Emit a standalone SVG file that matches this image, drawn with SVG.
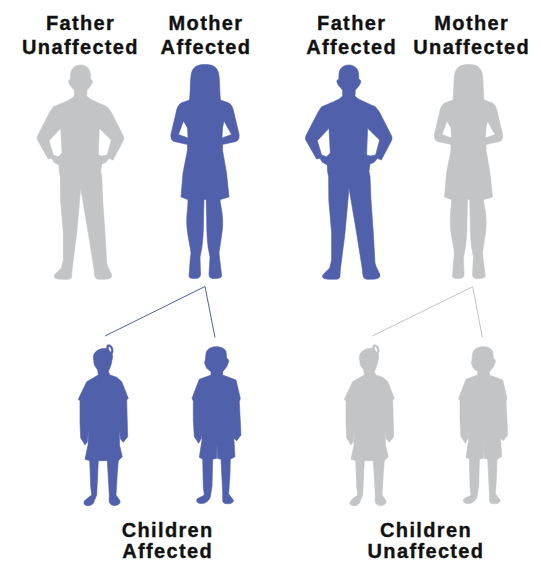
<svg xmlns="http://www.w3.org/2000/svg" width="541" height="562" viewBox="0 0 541 562">
<style>
text{font-family:"Liberation Sans",Arial,sans-serif;font-weight:700;font-size:20px;letter-spacing:1.35px;fill:#111;stroke:#111;stroke-width:.35;text-anchor:middle}
.a{fill:#5060ab;stroke:#5060ab}
.u{fill:#c3c4c6;stroke:#c3c4c6}
.fig{stroke-width:.6;stroke-linejoin:round;fill-rule:evenodd}
.ln{fill:none;stroke-width:1}
</style>
<defs>
<path id="father" d="M80.500,65C86,65 90,68.500 90.300,74L90.500,79.300C92.300,79.500 92.700,81 92.300,82.500C91.500,85 90,87 87,90L86.700,96C89,99 94,101 107,106.700L111,111.700L123.300,136C124,138 123.800,139.500 123,141L113,160L109,158.300L106,162.300L101.700,164L100.700,171.700L101.700,176L102.700,200L105,233L106.700,263C108,269 112,273 111.700,276C111,279 107,279.300 100,279.300C96,279.300 95,278 94.500,274L94,269L88.300,233L80.700,188L76.700,233L72,270L71.700,276C71.500,278.500 70,279.300 66,279.300C60,279.300 55,279.300 54.200,277C54.200,273 60,271 61.700,267L63.300,260L63.300,233L60.500,200L60.300,176.700L59.300,171.700L59,165L54,162.300L51.700,158.300L48.300,159L38,141C37,139.500 36.800,138 37.500,136L50,111.700L53.300,106.700C66,101.700 72,99 74.300,96L74.300,90C71.500,87 69.500,85 68.800,82.500C68.300,81 68.700,79.500 70.500,79.300L70.700,74C71,68.500 75,65 80.500,65ZM99.300,128.300L98.300,155L101.700,156L107.300,155L111.300,140ZM60.700,128.300L49,140.700L53.300,155L58.300,156.700L62,153Z"/>
<path id="mother" d="M205,64.500C213,64.500 217,67 218.500,73C220,80 219.500,92 220.500,100L226,102C231,103 233,107 234,113L239,134C239.500,138 238.500,140.500 236,141.500L222.500,144.500L222.500,150L226.500,173L229,197L220.500,199.500L220,201C221,207 222.700,214 222.700,222C222.700,232 220,245 219,253L220,262L221.700,276C221.500,278 218,278.500 214,278.500C210,278.500 209,277 209,274L210,257C207,245 206.700,232 206.700,220L206.200,199.500L204,199.500L203.500,220C203.500,232 203,245 200,257L200.500,274C200.500,277 199,278.500 195,278.500C191,278.500 189,278 189,276L190,262L191,253C190,245 186.700,232 186.700,222C186.700,214 188,207 188,201L187.700,199.500L181,197L183,173L187.500,150L187.500,144.500L174,141.500C171.500,140.500 170.500,138 171,134L176,113C177,107 179,103 184,102L189.500,100C190.500,92 190,80 191.500,73C193,67 197,64.500 205,64.500ZM183.500,121L178.500,134.500L188,138L187.500,128ZM224,121L222.500,128L222,138L231.500,134.500Z"/>
<path id="girl" d="M108.300,344.700C111,344.700 112.700,346.500 113,349.500C113.300,351.500 112.700,353 112.200,354L112.700,356.700L111,365L108.300,371.700L110,375L116.700,377.300L121.700,381.700L128.300,398.300L126.700,400L127.300,423.300L127.700,436.700L123.300,442.300L120.500,439L119.300,430L119.500,445L122.300,456.700L118.300,460.700L117.300,473.300L116,495L119,499.300C120.500,501 120.500,503 119,504C116.500,506 112.500,506 110.500,504C109,503 109,501 109.300,495L107.300,460.700L98.300,460.700L96.700,495L93.300,503.300C92,505 90,505.700 88.300,505.700C85.500,505.700 83.500,504.500 84,502C84.500,500 88,498 91.700,495L90.700,486.700L89.700,460.700L85,459.300L88,445L88.300,430L87.300,441.700L85,445L80.700,438L80,423.300L80,400.700L78.300,399.300L86.700,381.700L98.300,375L97.700,370L94.300,365L93.300,356.700C94,353 96,351 98.300,350C101,348.500 104,348.500 106.700,348.300C106.500,346 107,344.700 108.300,344.700ZM109,346.600C108.200,347 108.300,349 109.500,351C110.200,352 111,352.500 111.300,352C111.800,350 110.500,346.300 109,346.600Z"/>
<path id="boy" d="M216,346.700C221,346.700 225,348.500 226,351.700L226.700,358.300C228,359 228.900,360 228.700,361.700L226.700,366.700L222.700,371.700L222.700,375L236,380L240.300,398.300L239.300,401.700L241,435L236.700,440.700L233.700,438.300L233.300,430L235,456.700L230.300,459.300L230,473.300L228.700,494L233.300,500C233.800,502 232,503.500 229,503.700C226,503.900 223,503.700 222.700,501L222.700,493.300L221,459.300L217.500,458.300L217,443.300L216.700,458.300L212.700,459.300L212,486.700L210,498.300C208,501 206,503.300 202,503.600C198.500,503.800 196,502 196.700,499.500C198,497.500 202,497 204.300,495L203.300,486.700L202.700,459.300L199.300,457.300L202,440L201,430L201.300,438.300L198.700,443.300L194.300,436.700L193.300,420L193.300,401L192,398.300L199.300,379.300L211,375L211,371.700L206.700,368.300L204.700,363.300C204.700,361.500 205,360.500 205.300,360L206,353.300C207,349 211,346.700 216,346.700Z"/>
</defs>
<g id="connectors">
<polyline class="a ln" points="105,336 205,286.500 215,337.500"/>
<polyline class="u ln" points="372.300,336 472.700,286.700 482.300,337.300"/>
</g>
<g id="father-unaffected"><use href="#father" class="u fig"/><text x="80.500" y="30">Father</text><text x="80.500" y="53.500">Unaffected</text></g>
<g id="mother-affected"><use href="#mother" class="a fig"/><text x="206" y="30">Mother</text><text x="206" y="53.500">Affected</text></g>
<g id="father-affected"><use href="#father" x="268.300" class="a fig"/><text x="351.700" y="30">Father</text><text x="351.700" y="53.500">Affected</text></g>
<g id="mother-unaffected"><use href="#mother" x="263.500" class="u fig"/><text x="471.700" y="30">Mother</text><text x="471.700" y="53.500">Unaffected</text></g>
<g id="girl-affected"><use href="#girl" class="a fig"/></g>
<g id="boy-affected"><use href="#boy" class="a fig"/></g>
<g id="girl-unaffected"><use href="#girl" x="266" class="u fig"/></g>
<g id="boy-unaffected"><use href="#boy" x="266.700" class="u fig"/></g>
<g id="label-children-affected"><text x="167.700" y="536.500">Children</text><text x="167.700" y="558">Affected</text></g>
<g id="label-children-unaffected"><text x="426" y="536.500">Children</text><text x="426" y="558">Unaffected</text></g>
</svg>
